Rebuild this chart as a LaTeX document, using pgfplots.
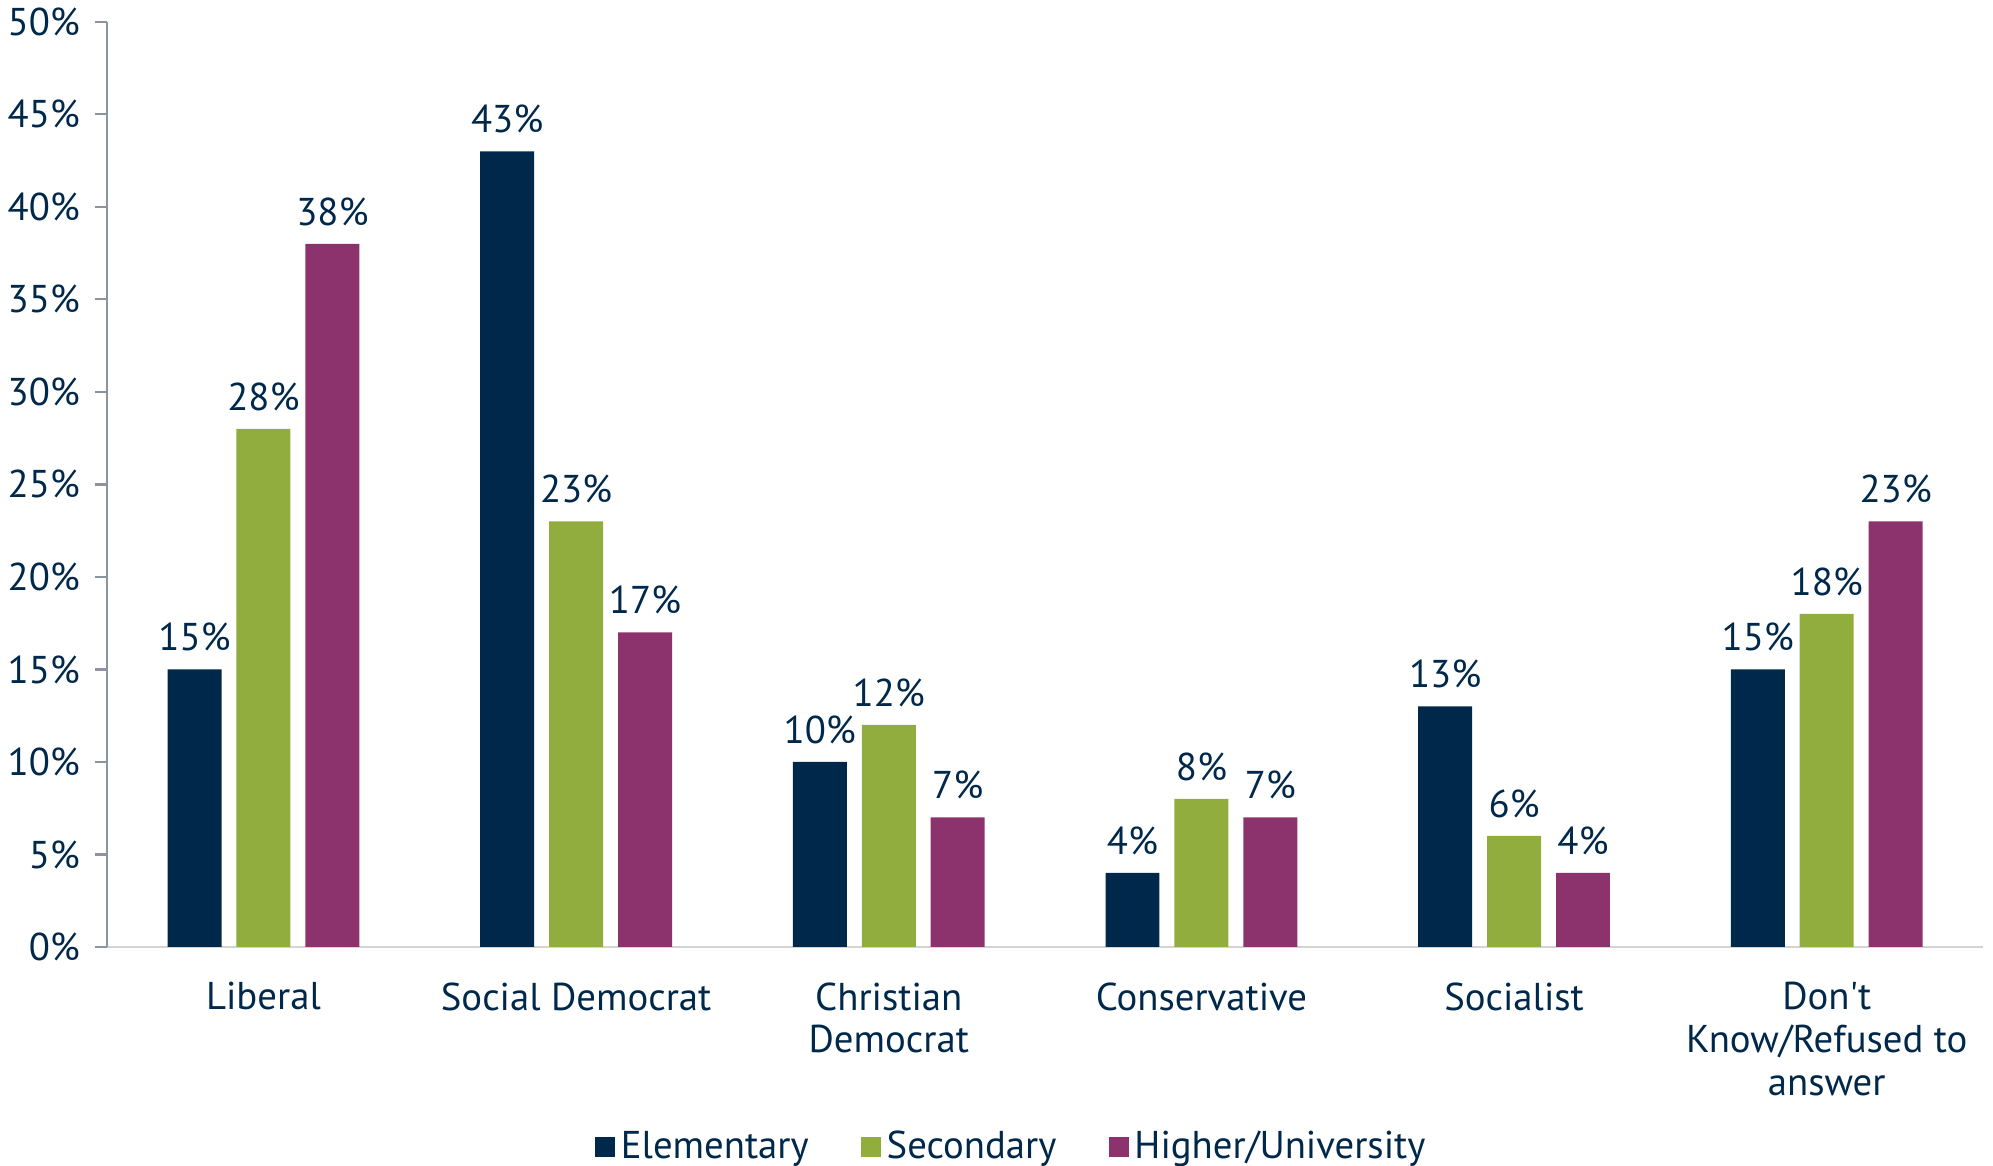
\documentclass[border=0pt]{standalone}
\usepackage{fontspec}
\setmainfont{PT Sans}
\usepackage{pgfplots}
\pgfplotsset{compat=1.18}
\definecolor{navy}{RGB}{0,40,74}
\definecolor{grn}{RGB}{145,173,62}
\definecolor{purp}{RGB}{140,50,108}
\definecolor{axgray}{RGB}{140,148,160}
\definecolor{lgray}{RGB}{212,212,212}
\begin{document}
\begin{tikzpicture}
\begin{axis}[
  name=ax,
  scale only axis,
  width=677.7pt, height=334.2pt,
  ybar=5.4pt, bar width=19.5pt,
  xmin=-0.5, xmax=5.5, ymin=0, ymax=50,
  axis x line*=bottom, axis y line*=left,
  x axis line style={lgray, line width=0.8pt},
  y axis line style={axgray, line width=0.8pt},
  xtick={0,1,2,3,4,5},
  xticklabels={Liberal,Social Democrat,Christian\\Democrat,Conservative,Socialist,Don\textquotesingle t\\Know/Refused to\\answer},
  xtick style={draw=none},
  extra x ticks={-0.5,0.5,1.5,2.5,3.5,4.5,5.5},
  extra x tick labels={},
  extra x tick style={tick style={draw=lgray, line width=0.8pt}, major tick length=4pt, tick align=outside},
  xticklabel style={align=center, font=\fontsize{14}{15.5}\selectfont, text=navy, yshift=-5pt},
  ytick={0,5,...,50},
  yticklabels={0\%,5\%,10\%,15\%,20\%,25\%,30\%,35\%,40\%,45\%,50\%},
  ytick style={draw=axgray, line width=0.8pt},
  major tick length=4.3pt, tick align=outside,
  yticklabel style={font=\fontsize{14}{15.5}\selectfont, text=navy, xshift=-2pt},
  /pgf/number format/assume math mode=true,
  nodes near coords={\pgfmathprintnumber{\pgfplotspointmeta}\%},
  every node near coord/.append style={font=\fontsize{14}{15.5}\selectfont, text=navy, yshift=3pt},
  legend columns=3,
  legend style={draw=none, at={(0.483,-0.216)}, anchor=center,
    font=\fontsize{14}{15.5}\selectfont, text=navy,
    /tikz/every even column/.append style={column sep=17pt}},
  legend image code/.code={\fill[#1] (0pt,-3.6pt) rectangle (7.2pt,3.6pt);},
]
\addplot[fill=navy, draw=none] coordinates {(0,15) (1,43) (2,10) (3,4) (4,13) (5,15)};
\addplot[fill=grn, draw=none] coordinates {(0,28) (1,23) (2,12) (3,8) (4,6) (5,18)};
\addplot[fill=purp, draw=none] coordinates {(0,38) (1,17) (2,7) (3,7) (4,4) (5,23)};
\legend{Elementary,Secondary,Higher/University}
\end{axis}
\pgfresetboundingbox
\useasboundingbox ([xshift=-38.7pt,yshift=-79.1pt]ax.south west) rectangle ([xshift=3.6pt,yshift=7.9pt]ax.north east);
\end{tikzpicture}
\end{document}
